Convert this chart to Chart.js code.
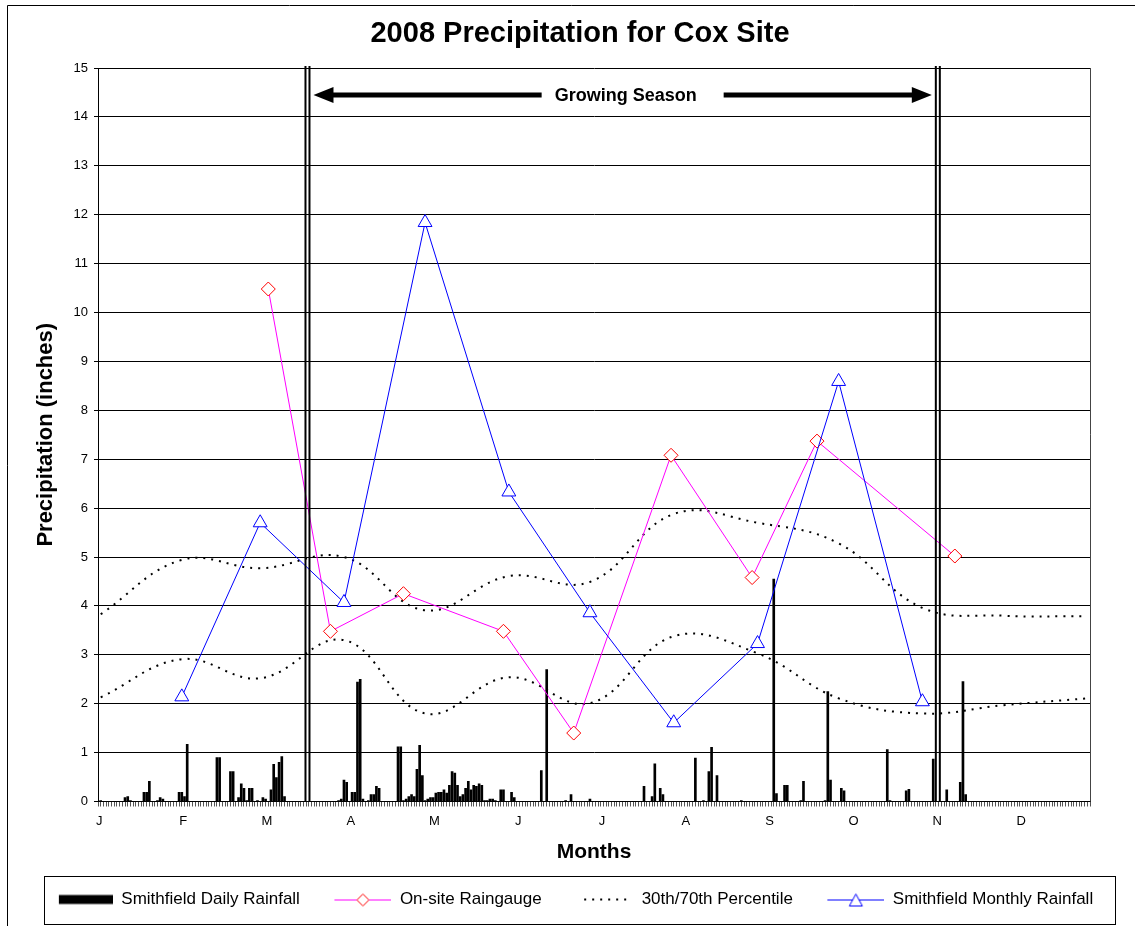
<!DOCTYPE html>
<html>
<head>
<meta charset="utf-8">
<title>2008 Precipitation for Cox Site</title>
<script src="https://cdn.jsdelivr.net/npm/chart.js@4"></script>
<style>
  html, body { margin: 0; padding: 0; background: #fff; }
</style>
</head>
<body>
<canvas id="precipChart" width="1135" height="926"></canvas>
<script>
// Month letters on the x axis, one every 31 days starting at the left edge
const monthLabels = ["J", "F", "M", "A", "M", "J", "J", "A", "S", "O", "N", "D"];

// Smithfield daily rainfall: day of year (0 = Jan 1) and inches
const rainDays = [
  0, 9, 10, 11, 16, 17, 18, 21, 22, 23, 29, 30, 31, 32,
  43, 44, 48, 49, 51, 52, 53, 54, 55, 56, 58, 60, 61,
  63, 64, 65, 66, 67, 68,
  88, 89, 90, 91, 93, 94, 95, 96, 97, 99, 100, 101, 102, 103,
  110, 111, 112, 113, 114, 115, 116, 117, 118, 119,
  120, 121, 122, 123, 124, 125, 126, 127, 128, 129,
  130, 131, 132, 133, 134, 135, 136, 137, 138, 139,
  140, 141, 142, 143, 144, 145, 146, 148, 149, 152, 153,
  163, 165, 172, 174, 181,
  201, 204, 205, 207, 208, 220, 223, 225, 226, 228, 237,
  249, 250, 253, 254, 259, 260, 268, 269, 270, 274, 275,
  291, 292, 298, 299, 308, 313, 318, 319, 320,
];
const rainInches = [
  0.02, 0.08, 0.10, 0.02, 0.19, 0.19, 0.41, 0.02, 0.08, 0.05, 0.19, 0.19, 0.10, 1.17,
  0.90, 0.90, 0.61, 0.61, 0.08, 0.36, 0.27, 0.02, 0.27, 0.27, 0.02, 0.08, 0.05,
  0.24, 0.76, 0.49, 0.80, 0.92, 0.10,
  0.02, 0.05, 0.44, 0.39, 0.19, 0.19, 2.44, 2.50, 0.05, 0.02, 0.14, 0.14, 0.31, 0.27,
  1.12, 1.12, 0.02, 0.05, 0.10, 0.14, 0.10, 0.66, 1.15, 0.53,
  0.02, 0.05, 0.08, 0.08, 0.17, 0.19, 0.19, 0.24, 0.17, 0.33,
  0.61, 0.58, 0.33, 0.10, 0.14, 0.27, 0.41, 0.24, 0.33, 0.31,
  0.36, 0.33, 0.02, 0.02, 0.05, 0.05, 0.02, 0.24, 0.24, 0.19, 0.08,
  0.63, 2.70, 0.02, 0.14, 0.05,
  0.31, 0.10, 0.77, 0.27, 0.14, 0.89, 0.02, 0.61, 1.11, 0.53, 0.02,
  4.55, 0.16, 0.33, 0.33, 0.02, 0.41, 0.02, 2.25, 0.44, 0.27, 0.22,
  1.06, 0.02, 0.22, 0.25, 0.87, 0.24, 0.39, 2.45, 0.14,
];

// On-site raingauge readings
const gaugeDays = [62, 85, 112, 149, 175, 211, 241, 265, 316];
const gaugeInches = [10.48, 3.48, 4.25, 3.48, 1.40, 7.08, 4.58, 7.37, 5.02];

// Smithfield monthly totals, plotted on the last day of each month
const monthEndDays = [30, 59, 90, 120, 151, 181, 212, 243, 273, 304];
const monthlyInches = [2.14, 5.70, 4.07, 11.84, 6.33, 3.86, 1.61, 3.23, 8.59, 2.04];

// 30th / 70th percentile monthly normals
const pctDays = [0, 30, 59, 90, 120, 151, 181, 212, 243, 273, 304, 334, 365];
const pct70 = [3.83, 4.94, 4.77, 5.00, 3.91, 4.61, 4.49, 5.88, 5.70, 5.28, 3.96, 3.80, 3.79];
const pct30 = [2.13, 2.91, 2.52, 3.30, 1.80, 2.54, 2.01, 3.38, 3.03, 2.11, 1.80, 1.97, 2.11];

// Growing season limits (day of year) and height of the label arrow
const seasonStart = 76.5;
const seasonEnd = 309.7;
const arrowLevel = 14.45;

const FONT = "'Liberation Sans', Arial, sans-serif";
Chart.defaults.font.family = FONT;
Chart.defaults.color = "#000";

const toPoints = (xs, ys) => xs.map((x, i) => ({ x, y: ys[i] }));

// Legend keys drawn Excel style (line with marker). Blank space on the
// left of each key gives the wide gaps between legend entries.
const KEY_W = 90;
const KEY_L = 33;

function makeKey(draw) {
  const c = document.createElement("canvas");
  c.width = KEY_W;
  c.height = 16;
  const ctx = c.getContext("2d");
  draw(ctx);
  return c;
}

const barKey = makeKey((ctx) => {
  ctx.fillStyle = "#000";
  ctx.fillRect(KEY_L + 3, 3.5, 54, 9);
});

const gaugeKey = makeKey((ctx) => {
  const cx = KEY_L + 28.5;
  ctx.strokeStyle = "#FF00FF";
  ctx.beginPath();
  ctx.moveTo(KEY_L, 8.5);
  ctx.lineTo(KEY_W, 8.5);
  ctx.stroke();
  ctx.fillStyle = "#fff";
  ctx.strokeStyle = "#FF0000";
  ctx.beginPath();
  ctx.moveTo(cx - 6, 8.5);
  ctx.lineTo(cx, 2.5);
  ctx.lineTo(cx + 6, 8.5);
  ctx.lineTo(cx, 14.5);
  ctx.closePath();
  ctx.fill();
  ctx.stroke();
});

const pctKey = makeKey((ctx) => {
  ctx.fillStyle = "#000";
  for (let px = KEY_L + 8; px < KEY_W - 2; px += 8) {
    ctx.fillRect(px, 7, 2, 2);
  }
});

const monthlyKey = makeKey((ctx) => {
  const cx = KEY_L + 28.5;
  ctx.strokeStyle = "#0000FF";
  ctx.beginPath();
  ctx.moveTo(KEY_L, 8.5);
  ctx.lineTo(KEY_W, 8.5);
  ctx.stroke();
  ctx.fillStyle = "#fff";
  ctx.beginPath();
  ctx.moveTo(cx, 2.5);
  ctx.lineTo(cx + 6.5, 14.5);
  ctx.lineTo(cx - 6.5, 14.5);
  ctx.closePath();
  ctx.fill();
  ctx.stroke();
});

// double lines marking the growing season, plus the arrow between them
const growingSeasonPlugin = {
  id: "growingSeason",
  afterDatasetsDraw(chart) {
    const { ctx, chartArea, scales } = chart;
    const x = scales.x;
    const y = scales.y;
    const h = chartArea.bottom - chartArea.top + 2;

    ctx.save();
    ctx.fillStyle = "#000";
    [seasonStart, seasonEnd].forEach((day) => {
      const px = x.getPixelForValue(day);
      ctx.fillRect(px - 3, chartArea.top - 2, 2, h);
      ctx.fillRect(px + 1, chartArea.top - 2, 2, h);
    });

    const ay = Math.round(y.getPixelForValue(arrowLevel));
    const tipL = x.getPixelForValue(seasonStart) + 6;
    const tipR = x.getPixelForValue(seasonEnd) - 6;
    const mid = (tipL + tipR) / 2 + 3;

    ctx.font = "bold 18px " + FONT;
    ctx.textAlign = "center";
    ctx.textBaseline = "middle";
    ctx.fillText("Growing Season", mid, ay + 1);
    const half = ctx.measureText("Growing Season").width / 2;

    ctx.strokeStyle = "#000";
    ctx.lineWidth = 5;
    ctx.beginPath();
    ctx.moveTo(tipL + 15, ay);
    ctx.lineTo(mid - half - 13, ay);
    ctx.moveTo(mid + half + 27, ay);
    ctx.lineTo(tipR - 15, ay);
    ctx.stroke();

    ctx.beginPath();
    ctx.moveTo(tipL, ay);
    ctx.lineTo(tipL + 20, ay - 8);
    ctx.lineTo(tipL + 20, ay + 8);
    ctx.closePath();
    ctx.moveTo(tipR, ay);
    ctx.lineTo(tipR - 20, ay - 8);
    ctx.lineTo(tipR - 20, ay + 8);
    ctx.closePath();
    ctx.fill();
    ctx.restore();
  },
};

// white background, outer chart border, plot border and legend box
const framePlugin = {
  id: "frame",
  beforeDraw(chart) {
    const { ctx, width, height } = chart;
    ctx.save();
    ctx.fillStyle = "#fff";
    ctx.fillRect(0, 0, width, height);
    ctx.restore();
  },
  afterDraw(chart) {
    const { ctx, chartArea, width, height } = chart;
    ctx.save();
    ctx.strokeStyle = "#000";
    ctx.lineWidth = 1;
    ctx.beginPath();
    ctx.moveTo(7.5, height);
    ctx.lineTo(7.5, 5.5);
    ctx.lineTo(width, 5.5);
    ctx.stroke();

    ctx.strokeStyle = "#444";
    ctx.beginPath();
    ctx.moveTo(Math.round(chartArea.right) + 0.5, chartArea.top);
    ctx.lineTo(Math.round(chartArea.right) + 0.5, chartArea.bottom);
    ctx.stroke();

    ctx.strokeStyle = "#000";
    ctx.strokeRect(44.5, 876.5, 1071, 48);
    ctx.restore();
  },
};

// nudge the title and legend row so they sit where Excel put them
const blockShiftPlugin = {
  id: "blockShift",
  afterLayout(chart) {
    chart.legend.left += 9;
    chart.legend.right += 9;
    chart.titleBlock.left += 31;
    chart.titleBlock.right += 31;
  },
};

const ctx = document.getElementById("precipChart");

new Chart(ctx, {
  type: "bar",
  data: {
    datasets: [
      {
        type: "bar",
        label: "Smithfield Daily Rainfall",
        data: toPoints(rainDays, rainInches),
        backgroundColor: "#000",
        barThickness: 2,
        order: 4,
      },
      {
        type: "line",
        label: "On-site Raingauge",
        data: toPoints(gaugeDays, gaugeInches),
        borderColor: "#FF00FF",
        borderWidth: 1,
        pointStyle: "rectRot",
        pointRadius: 7,
        pointBorderColor: "#FF0000",
        pointBackgroundColor: "#fff",
        pointBorderWidth: 1,
        order: 2,
      },
      {
        type: "line",
        label: "30th/70th Percentile",
        data: toPoints(pctDays, pct70),
        borderColor: "#000",
        borderWidth: 2,
        borderDash: [2, 6],
        pointRadius: 0,
        tension: 0.4,
        order: 3,
      },
      {
        type: "line",
        label: "30th Percentile",
        data: toPoints(pctDays, pct30),
        borderColor: "#000",
        borderWidth: 2,
        borderDash: [2, 6],
        pointRadius: 0,
        tension: 0.4,
        order: 3,
      },
      {
        type: "line",
        label: "Smithfield Monthly Rainfall",
        data: toPoints(monthEndDays, monthlyInches),
        borderColor: "#0000FF",
        borderWidth: 1,
        pointStyle: "triangle",
        pointRadius: 8,
        pointBorderColor: "#0000FF",
        pointBackgroundColor: "#fff",
        pointBorderWidth: 1,
        order: 1,
      },
    ],
  },
  options: {
    responsive: false,
    animation: false,
    events: [],
    layout: { padding: { top: 5, left: 8, right: 45, bottom: 8 } },
    plugins: {
      title: {
        display: true,
        text: "2008 Precipitation for Cox Site",
        color: "#000",
        font: { size: 29, weight: "bold" },
        padding: { top: 12, bottom: 16.2 },
      },
      legend: {
        position: "bottom",
        labels: {
          usePointStyle: true,
          pointStyleWidth: KEY_W,
          padding: 1.5,
          color: "#000",
          font: { size: 17 },
          generateLabels: () => [
            { text: "Smithfield Daily Rainfall", pointStyle: barKey, datasetIndex: 0 },
            { text: "On-site Raingauge", pointStyle: gaugeKey, datasetIndex: 1 },
            { text: "30th/70th Percentile", pointStyle: pctKey, datasetIndex: 2 },
            { text: "Smithfield Monthly Rainfall", pointStyle: monthlyKey, datasetIndex: 4 },
          ].map((item) => ({ ...item, fontColor: "#000", hidden: false, lineWidth: 0 })),
        },
      },
      tooltip: { enabled: false },
    },
    scales: {
      x: {
        type: "linear",
        min: -0.5,
        max: 365.5,
        afterBuildTicks: (scale) => {
          const ticks = [];
          for (let v = -0.5; v <= 365.5; v += 1) ticks.push({ value: v });
          scale.ticks = ticks;
        },
        ticks: {
          autoSkip: false,
          maxRotation: 0,
          minRotation: 0,
          padding: 7,
          color: "#000",
          font: { size: 13 },
          callback: (value) => {
            const k = (value + 0.5) / 31;
            return Number.isInteger(k) && k < monthLabels.length ? monthLabels[k] : "";
          },
        },
        grid: { drawOnChartArea: false, drawTicks: true, tickLength: 5, color: "#555" },
        border: { color: "#000", width: 1 },
        title: {
          display: true,
          text: "Months",
          color: "#000",
          font: { size: 21, weight: "bold" },
          padding: { top: 3.8, bottom: 24.4 },
        },
      },
      y: {
        min: 0,
        max: 15,
        ticks: { stepSize: 1, padding: 6, color: "#000", font: { size: 13 } },
        grid: { color: "#000", tickLength: 4 },
        border: { color: "#000" },
        title: {
          display: true,
          text: "Precipitation (inches)",
          color: "#000",
          font: { size: 22, weight: "bold" },
          padding: { top: 24.8, bottom: 0 },
        },
        afterFit: (scale) => {
          scale.width = 90;
        },
      },
    },
  },
  plugins: [framePlugin, growingSeasonPlugin, blockShiftPlugin],
});
</script>
</body>
</html>
